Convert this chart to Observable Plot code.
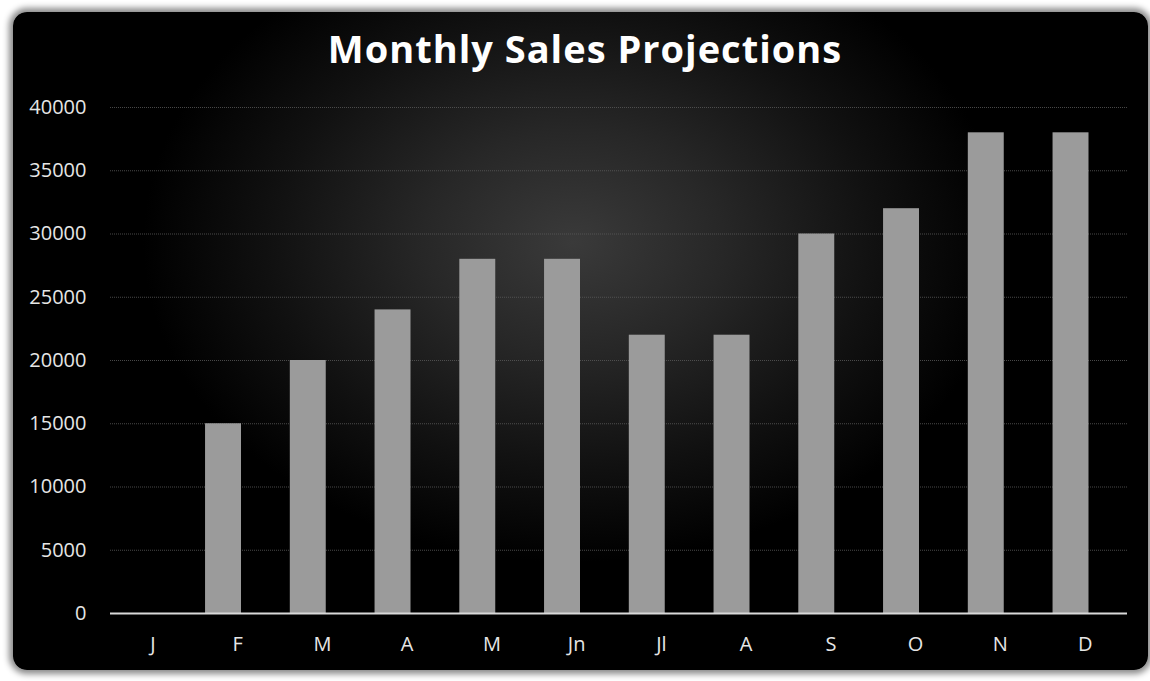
<!DOCTYPE html>
<html>
<head>
<meta charset="utf-8">
<script src="https://cdn.jsdelivr.net/npm/d3@7"></script>
<script src="https://cdn.jsdelivr.net/npm/@observablehq/plot@0.6"></script>
<style>
  html, body { margin: 0; padding: 0; background: #fff; }
  #wrap { position: relative; width: 1150px; height: 681px; overflow: hidden; background: #fff; }
  #card {
    position: absolute; left: 13px; top: 12px; width: 1135px; height: 658px;
    border-radius: 14px;
    background: radial-gradient(ellipse 430px 320px at 560px 230px, #3a3a3a 0%, #272727 35%, #111 70%, #000 100%);
    box-shadow: 0 0 6px 4px #8a8a8a;
  }
  #title {
    position: absolute; left: 0; top: 22px; width: 1170px; text-align: center;
    font-family: "Open Sans", sans-serif; font-weight: 700; font-size: 38px;
    letter-spacing: 1px; color: #fff; line-height: normal;
  }
  #chart { position: absolute; left: 0; top: 0; }
</style>
</head>
<body>
<div id="wrap">
  <div id="card"></div>
  <div id="title">Monthly Sales Projections</div>
  <div id="chart"></div>
</div>
<script>
const months = ["J", "F", "M", "A", "M", "Jn", "Jl", "A", "S", "O", "N", "D"];
const sales = [0, 15000, 20000, 24000, 28000, 28000, 22000, 22000, 30000, 32000, 38000, 38000];
const yTicks = [0, 5000, 10000, 15000, 20000, 25000, 30000, 35000, 40000];

const data = months.map((m, i) => ({i, month: m, value: sales[i]}));

const chart = Plot.plot({
  width: 1150,
  height: 681,
  marginLeft: 110,
  marginRight: 23,
  marginTop: 107,
  marginBottom: 68,
  style: {background: "transparent", color: "#e6e6e6", fontFamily: "'Open Sans', sans-serif", fontSize: "20px"},
  x: {domain: d3.range(months.length), padding: 0, round: false, label: null},
  y: {domain: [0, 40000], label: null},
  marks: [
    Plot.gridY(yTicks, {stroke: "#5a5a5a", strokeOpacity: 0.8, strokeDasharray: "1,1"}),
    Plot.barY(data, {x: "i", y: "value", fill: "#9b9b9b", insetLeft: 10.3, insetRight: 38.5}),
    Plot.ruleY([0], {stroke: "#d9d9d9", strokeWidth: 2}),
    Plot.axisY(yTicks, {tickSize: 0, tickPadding: 24, fill: "#e6e6e6", fontSize: 20, label: null,
      tickFormat: d => String(d)}),
    Plot.axisX({tickSize: 0, tickPadding: 23, fill: "#e6e6e6", fontSize: 20, label: null,
      tickFormat: i => months[i]})
  ]
});
document.getElementById("chart").appendChild(chart);
</script>
</body>
</html>
